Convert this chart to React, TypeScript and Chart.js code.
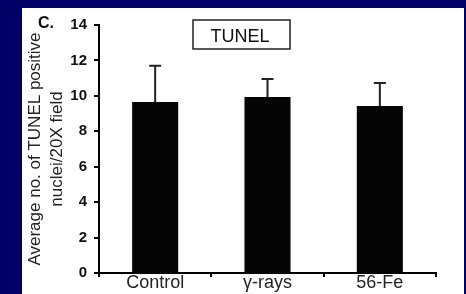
import React, { useEffect, useRef } from "react";
import { Chart, registerables } from "chart.js";

Chart.register(...registerables);

const categories = ["Control", "γ-rays", "56-Fe"];
const means = [9.65, 9.93, 9.43];
const errorTops = [11.7, 10.95, 10.73];
const yTicks = [0, 2, 4, 6, 8, 10, 12, 14];
const yTitle = ["Average no. of TUNEL positive", "nuclei/20X field"];
const panelLabel = "C.";
const legendText = "TUNEL";

const NAVY = "#000066";
const FONT = "Arial, 'Liberation Sans', sans-serif";

export default function App() {
  const ref = useRef<HTMLCanvasElement | null>(null);

  useEffect(() => {
    const canvas = ref.current;
    if (!canvas) return;

    const bgPlugin = {
      id: "bg",
      beforeDraw(chart: any) {
        const ctx = chart.ctx;
        ctx.save();
        ctx.fillStyle = NAVY;
        ctx.fillRect(0, 0, chart.width, chart.height);
        ctx.fillStyle = "#ffffff";
        ctx.fillRect(22, 8, 442, chart.height - 8);
        ctx.restore();
      },
    };

    const errPlugin = {
      id: "errbars",
      afterDatasetsDraw(chart: any) {
        const ctx = chart.ctx;
        const meta = chart.getDatasetMeta(0);
        const y = chart.scales.y;
        ctx.save();
        ctx.strokeStyle = "#222";
        ctx.lineWidth = 2;
        meta.data.forEach((bar: any, i: number) => {
          const x = bar.x;
          const y0 = y.getPixelForValue(means[i]);
          const y1 = y.getPixelForValue(errorTops[i]);
          ctx.beginPath();
          ctx.moveTo(x, y0);
          ctx.lineTo(x, y1);
          ctx.moveTo(x - 6, y1);
          ctx.lineTo(x + 6, y1);
          ctx.stroke();
        });
        ctx.restore();
      },
    };

    const annoPlugin = {
      id: "anno",
      afterDraw(chart: any) {
        const ctx = chart.ctx;
        const y = chart.scales.y;
        ctx.save();
        ctx.fillStyle = "#111";
        ctx.font = `bold 16px ${FONT}`;
        ctx.textAlign = "left";
        ctx.textBaseline = "middle";
        ctx.fillText(panelLabel, 38, y.getPixelForValue(14) - 1);
        // legend box
        ctx.strokeStyle = "#222";
        ctx.lineWidth = 1.5;
        ctx.strokeRect(193, 20, 97, 29);
        ctx.font = `18px ${FONT}`;
        ctx.textAlign = "center";
        ctx.fillStyle = "#111";
        ctx.fillText(legendText, 240, 37);
        ctx.restore();
      },
    };

    const chart = new Chart(canvas, {
      type: "bar",
      data: {
        labels: categories,
        datasets: [
          {
            data: means,
            backgroundColor: "#050505",
            borderWidth: 0,
            categoryPercentage: 1,
            barPercentage: 0.41,
          },
        ],
      },
      options: {
        responsive: false,
        animation: false,
        devicePixelRatio: 1,
        layout: { padding: { left: 0, top: 25, right: 30, bottom: 0 } },
        plugins: {
          legend: { display: false },
          tooltip: { enabled: false },
        },
        scales: {
          x: {
            grid: {
              display: true,
              drawOnChartArea: false,
              drawTicks: true,
              tickLength: 4,
              color: "#000",
              lineWidth: 2,
              offset: true,
            },
            border: { display: true, color: "#000", width: 2 },
            ticks: {
              color: "#222",
              font: { family: FONT, size: 18 },
              padding: -5,
              maxRotation: 0,
            },
            afterFit(scale: any) {
              scale.height = 21;
            },
          },
          y: {
            min: 0,
            max: 14,
            afterBuildTicks(scale: any) {
              scale.ticks = yTicks.map((v) => ({ value: v }));
            },
            grid: {
              display: true,
              drawOnChartArea: false,
              drawTicks: true,
              tickLength: 5,
              color: "#000",
              lineWidth: 2,
            },
            border: { display: true, color: "#000", width: 2 },
            ticks: {
              color: "#111",
              font: { family: FONT, size: 15, weight: "bold" },
              padding: 7,
            },
            title: {
              display: true,
              text: yTitle,
              color: "#222",
              font: { family: FONT, size: 17, lineHeight: 1.3 },
              padding: { top: 24, bottom: 0 },
            },
            afterFit(scale: any) {
              scale.width = 99;
            },
          },
        },
      },
      plugins: [bgPlugin, errPlugin, annoPlugin],
    });

    return () => chart.destroy();
  }, []);

  return (
    <div style={{ position: "absolute", left: 0, top: 0, width: 466, height: 294, background: NAVY }}>
      <canvas ref={ref} width={466} height={294} style={{ display: "block" }} />
    </div>
  );
}
